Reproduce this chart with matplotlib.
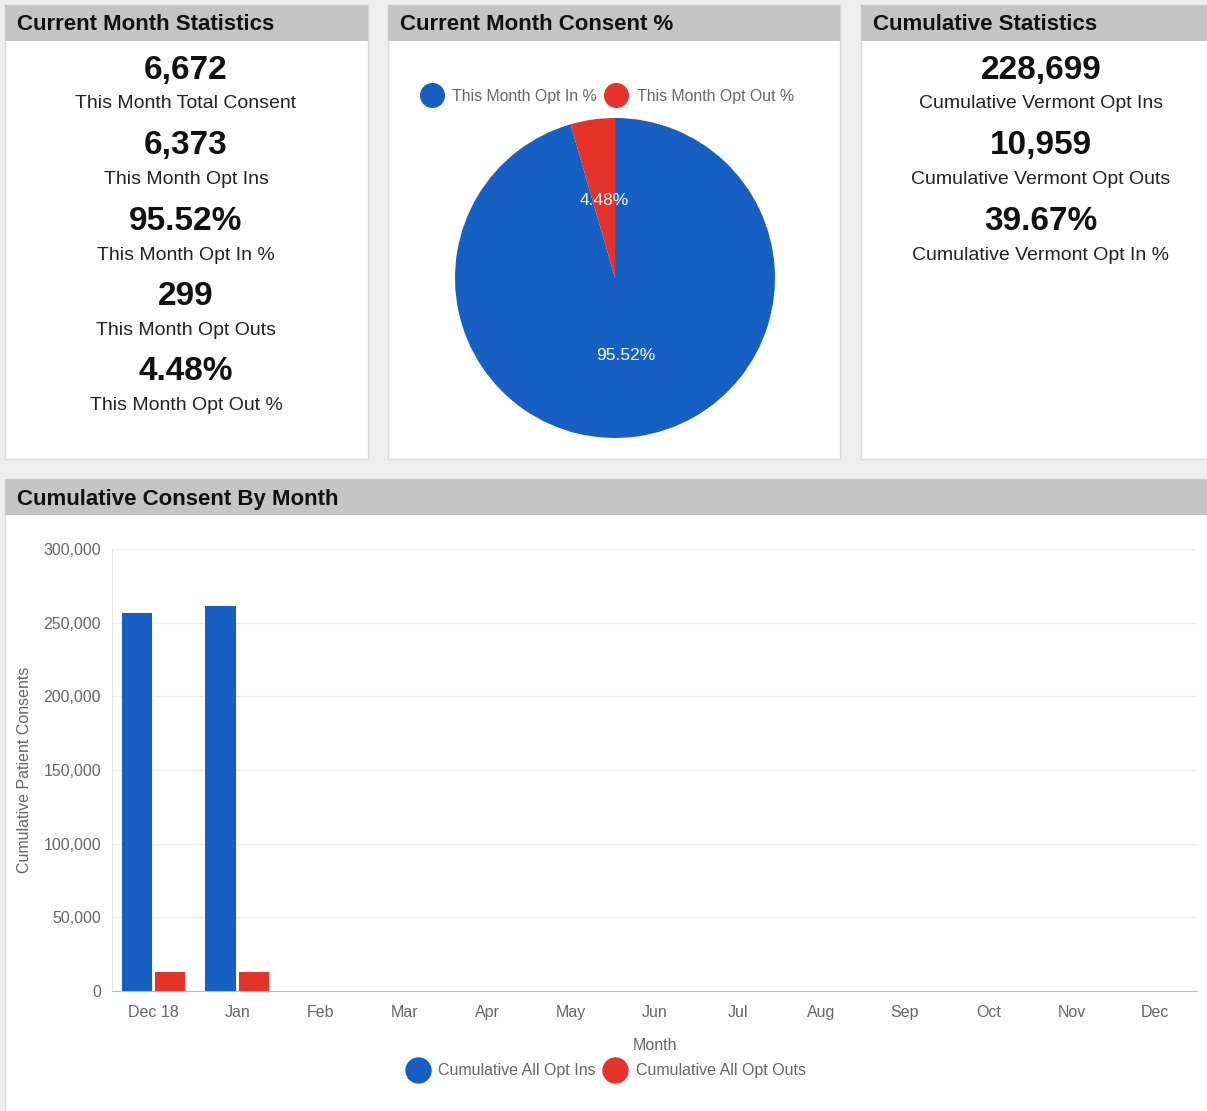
import matplotlib
matplotlib.use("Agg")
from matplotlib import pyplot as plt
from matplotlib.patches import Rectangle
from matplotlib.lines import Line2D

plt.rcParams['font.family'] = ['Liberation Sans', 'DejaVu Sans']

W, H = 1207, 1111

# data
month_stats = [("6,672", "This Month Total Consent"),
               ("6,373", "This Month Opt Ins"),
               ("95.52%", "This Month Opt In %"),
               ("299", "This Month Opt Outs"),
               ("4.48%", "This Month Opt Out %")]
cum_stats = [("228,699", "Cumulative Vermont Opt Ins"),
             ("10,959", "Cumulative Vermont Opt Outs"),
             ("39.67%", "Cumulative Vermont Opt In %")]
pie_labels = ["This Month Opt In %", "This Month Opt Out %"]
pie_values = [95.52, 4.48]
months = ["Dec 18", "Jan", "Feb", "Mar", "Apr", "May", "Jun", "Jul", "Aug", "Sep", "Oct", "Nov", "Dec"]
opt_ins = [256500, 261300]
opt_outs = [12900, 13000]

BLUE = "#1560c2"
RED = "#e5332a"
HEAD = "#c4c4c4"
GRAY_TXT = "#666666"


def fx(x):
    return x / W


def fy(y):
    return 1 - y / H


fig = plt.figure(figsize=(W / 100, H / 100), dpi=100)
fig.patch.set_facecolor("#eeeeee")


def panel(x0, y0, x1, y1, title):
    fig.patches.append(Rectangle((fx(x0), fy(y1)), fx(x1 - x0), (y1 - y0) / H,
                                 transform=fig.transFigure, facecolor="white",
                                 edgecolor="#dcdcdc", lw=1, zorder=-3))
    fig.patches.append(Rectangle((fx(x0), fy(y0 + 36)), fx(x1 - x0), 36 / H,
                                 transform=fig.transFigure, facecolor=HEAD,
                                 edgecolor="none", zorder=-2))
    fig.text(fx(x0 + 12), fy(y0 + 20), title, fontsize=16, fontweight="bold",
             va="center", ha="left", color="#111111")


panel(5, 5, 368, 459, "Current Month Statistics")
panel(388, 5, 840, 459, "Current Month Consent %")
panel(861, 5, 1212, 459, "Cumulative Statistics")
panel(5, 479, 1212, 1116, "Cumulative Consent By Month")

# stat blocks
for i, (num, lab) in enumerate(month_stats):
    y = 70 + i * 75.5
    fig.text(fx(186), fy(y), num, fontsize=24, fontweight="bold", ha="center", va="center", color="#111111")
    fig.text(fx(186), fy(y + 34), lab, fontsize=14, ha="center", va="center", color="#222222")

for i, (num, lab) in enumerate(cum_stats):
    y = 70 + i * 75.5
    fig.text(fx(1041), fy(y), num, fontsize=24, fontweight="bold", ha="center", va="center", color="#111111")
    fig.text(fx(1041), fy(y + 34), lab, fontsize=14, ha="center", va="center", color="#222222")

# pie
r = 160
cx, cy = 615, 278
pax = fig.add_axes([fx(cx - r), fy(cy + r), 2 * r / W, 2 * r / H])
wedges, texts, autotexts = pax.pie(pie_values, colors=[BLUE, RED], startangle=90, counterclock=False,
                                   autopct="%.2f%%", pctdistance=0.49,
                                   textprops=dict(color="white", fontsize=12.5))
pax.set_aspect("auto")
pax.set_xlim(-1, 1)
pax.set_ylim(-1, 1)
pax.axis("off")

leg_handles = [Line2D([], [], marker="o", ls="", markersize=17, color=c) for c in [BLUE, RED]]
fig.legend(leg_handles, pie_labels, loc="center", bbox_to_anchor=(fx(608), fy(96)), ncol=2,
           frameon=False, fontsize=11.4, labelcolor=GRAY_TXT, handletextpad=0.7, columnspacing=0.6,
           handlelength=1.2)

# bar chart
ax = fig.add_axes([fx(112), fy(991), fx(1197 - 112), (991 - 549) / H])
ax.set_facecolor("none")
x = list(range(len(months)))
bw = 0.36
ax.bar([i - bw / 2 - 0.02 for i in range(len(opt_ins))], opt_ins, width=bw, color=BLUE, zorder=3)
ax.bar([i + bw / 2 + 0.02 for i in range(len(opt_outs))], opt_outs, width=bw, color=RED, zorder=3)
ax.set_xlim(-0.5, len(months) - 0.5)
ax.set_ylim(0, 300000)
ax.set_yticks(range(0, 300001, 50000))
ax.set_yticklabels([f"{v:,}" for v in range(0, 300001, 50000)])
ax.set_xticks(x)
ax.set_xticklabels(months)
ax.tick_params(axis="both", length=0, labelsize=11.5, colors=GRAY_TXT)
ax.tick_params(axis="y", pad=8)
ax.tick_params(axis="x", pad=10)
ax.grid(axis="y", color="#ececec", lw=1, zorder=0)
for s in ["top", "right"]:
    ax.spines[s].set_visible(False)
ax.spines["left"].set_color("#e6e6e6")
ax.spines["bottom"].set_color("#bbbbbb")
ax.set_ylabel("Cumulative Patient Consents", fontsize=11.5, color=GRAY_TXT, labelpad=8)
ax.set_xlabel("Month", fontsize=11.5, color=GRAY_TXT, labelpad=13)

bar_handles = [Line2D([], [], marker="o", ls="", markersize=18, color=c) for c in [BLUE, RED]]
fig.legend(bar_handles, ["Cumulative All Opt Ins", "Cumulative All Opt Outs"], loc="center",
           bbox_to_anchor=(fx(607), fy(1071)), ncol=2, frameon=False, fontsize=11.5,
           labelcolor=GRAY_TXT, handletextpad=0.7, columnspacing=0.6, handlelength=1.2)

fig.savefig("out.png", dpi=100, facecolor=fig.get_facecolor())
